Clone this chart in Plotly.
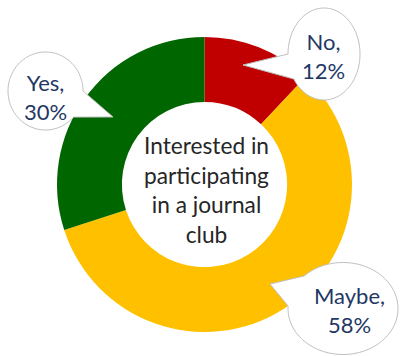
import numpy as np
import plotly.graph_objects as go

W, H = 409, 356

labels = ["No", "Maybe", "Yes"]
values = [12, 58, 30]
colors = ["#C00000", "#FFC000", "#006600"]
center_title = "Interested in<br>participating<br>in a journal<br>club"

# callout bubbles (pixel layout): ellipse centre, radii, tail attach angles (deg), tail tip
bubbles = [
    dict(label="Yes", cx=45.5, cy=91, rx=37.5, ry=39, t1=0, t2=42, tip=(113, 117), tx=45, ty=97),
    dict(label="No", cx=324, cy=54, rx=36, ry=46, t1=147, t2=180, tip=(243, 65), tx=323, ty=56),
    dict(label="Maybe", cx=343, cy=308.5, rx=55, ry=46, t1=183, t2=225, tip=(270, 284), tx=349, ty=310),
]

def px(x, y):
    return x / W, 1 - y / H

def bubble_path(b):
    t1, t2 = np.radians(b["t1"]), np.radians(b["t2"])
    ts = np.linspace(t2, t1 + 2 * np.pi, 120)
    pts = [px(b["cx"] + b["rx"] * np.cos(t), b["cy"] + b["ry"] * np.sin(t)) for t in ts]
    pts.append(px(*b["tip"]))
    d = "M " + " L ".join(f"{x:.5f},{y:.5f}" for x, y in pts) + " Z"
    return d

fig = go.Figure()
fig.add_trace(go.Pie(
    labels=labels, values=values, sort=False, direction="clockwise", rotation=0,
    hole=0.56, marker=dict(colors=colors, line=dict(width=0)),
    textinfo="none", hoverinfo="none", showlegend=False,
    domain=dict(x=[57 / W, 352 / W], y=[24 / H, 319 / H]),
))

shapes = []
annotations = []
val_map = dict(zip(labels, values))
for b in bubbles:
    shapes.append(dict(type="path", xref="paper", yref="paper", path=bubble_path(b),
                       fillcolor="white", line=dict(color="#BFBFBF", width=1), layer="above"))
    x, y = px(b["tx"], b["ty"])
    annotations.append(dict(x=x, y=y, xref="paper", yref="paper", showarrow=False,
                            text=f"{b['label']},<br>{val_map[b['label']]}%",
                            font=dict(family="Lato", size=22, color="#1F3864"),
                            xanchor="center", yanchor="middle"))

cx, cy = px(206, 190)
annotations.append(dict(x=cx, y=cy, xref="paper", yref="paper", showarrow=False,
                        text=center_title, font=dict(family="Lato", size=22.7, color="#262626"),
                        xanchor="center", yanchor="middle"))

fig.update_layout(width=W, height=H, margin=dict(l=0, r=0, t=0, b=0),
                  paper_bgcolor="white", plot_bgcolor="white",
                  shapes=shapes, annotations=annotations)
fig.write_html("out.html")
